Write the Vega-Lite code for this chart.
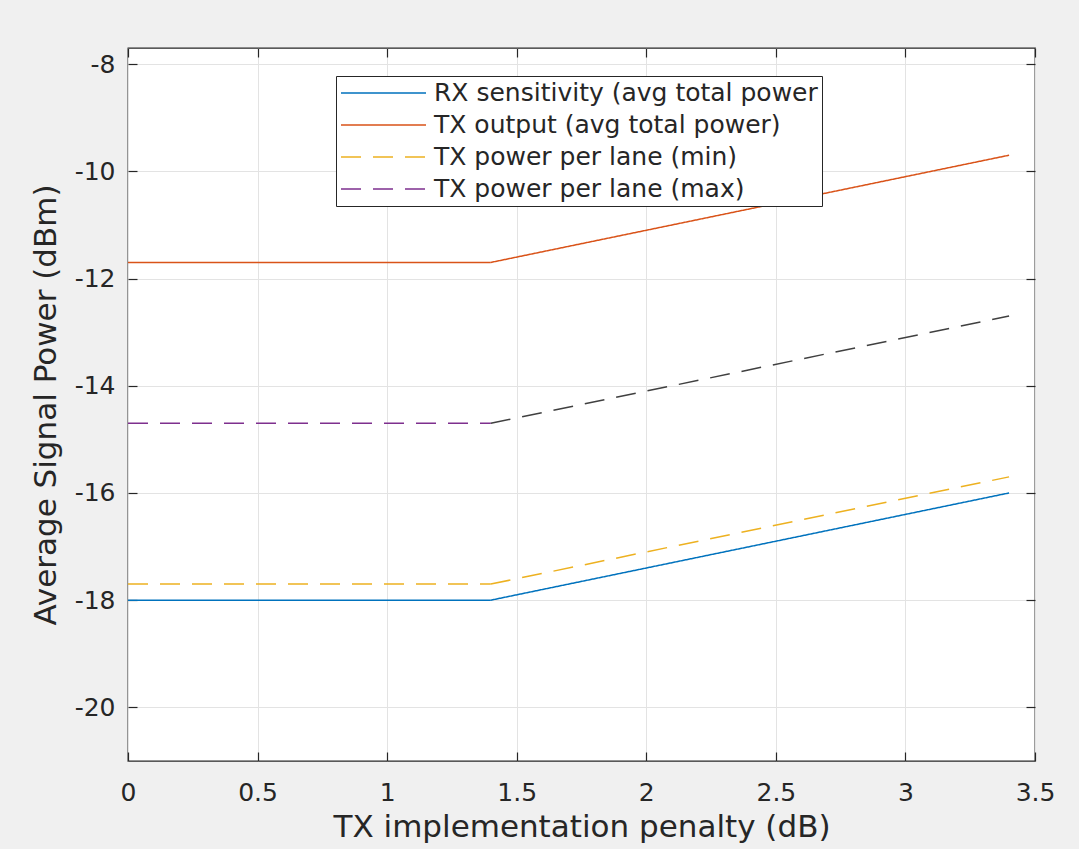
{
  "$schema": "https://vega.github.io/schema/vega-lite/v6.json",
  "width": 907,
  "height": 713,
  "autosize": "none",
  "padding": {"left": 128, "top": 48, "right": 44, "bottom": 88},
  "background": "#f0f0f0",
  "config": {
    "font": "DejaVu Sans",
    "view": {"fill": "white", "stroke": "#262626", "strokeWidth": 1.3},
    "axis": {
      "labelFont": "DejaVu Sans", "titleFont": "DejaVu Sans",
      "labelColor": "#262626", "titleColor": "#262626",
      "labelFontSize": 25, "titleFontSize": 31, "titleFontWeight": "normal",
      "gridColor": "#e3e3e3", "gridWidth": 1,
      "tickColor": "#262626", "tickSize": -9, "tickWidth": 1.2,
      "domain": false,
      "labelExpr": "datum.value + ''"
    }
  },
  "data": {
    "values": [
      {"series": "RX sensitivity (avg total power", "part": "flat", "x": 0, "y": -18},
      {"series": "RX sensitivity (avg total power", "part": "flat", "x": 1.4, "y": -18},
      {"series": "RX sensitivity (avg total power", "part": "slope", "x": 1.4, "y": -18},
      {"series": "RX sensitivity (avg total power", "part": "slope", "x": 3.4, "y": -16},
      {"series": "TX output (avg total power)", "part": "flat", "x": 0, "y": -11.7},
      {"series": "TX output (avg total power)", "part": "flat", "x": 1.4, "y": -11.7},
      {"series": "TX output (avg total power)", "part": "slope", "x": 1.4, "y": -11.7},
      {"series": "TX output (avg total power)", "part": "slope", "x": 3.4, "y": -9.7},
      {"series": "TX power per lane (min)", "part": "flat", "x": 0, "y": -17.7},
      {"series": "TX power per lane (min)", "part": "flat", "x": 1.4, "y": -17.7},
      {"series": "TX power per lane (min)", "part": "slope", "x": 1.4, "y": -17.7},
      {"series": "TX power per lane (min)", "part": "slope", "x": 3.4, "y": -15.7},
      {"series": "TX power per lane (max)", "part": "flat", "x": 0, "y": -14.7},
      {"series": "TX power per lane (max)", "part": "flat", "x": 1.4, "y": -14.7},
      {"series": "TX power per lane (max)", "part": "slope", "x": 1.4, "y": -14.7},
      {"series": "TX power per lane (max)", "part": "slope", "x": 3.4, "y": -12.7}
    ]
  },
  "resolve": {"axis": {"x": "independent", "y": "independent"}},
  "layer": [
    {
      "transform": [{"filter": "!(datum.series == 'TX power per lane (max)' && datum.part == 'slope')"}],
      "mark": {"type": "line", "strokeWidth": 1.5, "clip": true},
      "encoding": {
        "x": {"field": "x", "type": "quantitative",
              "scale": {"domain": [0, 3.5], "nice": false, "zero": false},
              "axis": {"values": [0, 0.5, 1, 1.5, 2, 2.5, 3, 3.5], "title": "TX implementation penalty (dB)", "labelPadding": 28, "titlePadding": 7, "labelFlush": false}},
        "y": {"field": "y", "type": "quantitative",
              "scale": {"domain": [-21, -7.7], "nice": false, "zero": false},
              "axis": {"values": [-20, -18, -16, -14, -12, -10, -8], "title": "Average Signal Power (dBm)", "labelPadding": 22, "titlePadding": 12}},
        "color": {"field": "series", "type": "nominal",
                  "scale": {"domain": ["RX sensitivity (avg total power", "TX output (avg total power)", "TX power per lane (min)", "TX power per lane (max)"],
                            "range": ["#0072BD", "#D95319", "#EDB120", "#7E2F8E"]},
                  "legend": {"title": null, "orient": "none", "legendX": 208, "legendY": 28,
                             "strokeColor": "#262626", "fillColor": "white", "padding": 4,
                             "labelFont": "DejaVu Sans", "labelFontSize": 25, "labelColor": "#262626", "labelLimit": 600,
                             "symbolType": "stroke", "symbolSize": 7225, "symbolStrokeWidth": 1.5,
                             "clipHeight": 26, "rowPadding": 6, "labelOffset": 7}},
        "strokeDash": {"field": "series", "type": "nominal",
                       "scale": {"domain": ["RX sensitivity (avg total power", "TX output (avg total power)", "TX power per lane (min)", "TX power per lane (max)"],
                                 "range": [[1, 0], [1, 0], [20, 12], [20, 12]]},
                       "legend": null},
        "detail": {"field": "part", "type": "nominal"}
      }
    },
    {
      "transform": [{"filter": "datum.series == 'TX power per lane (max)' && datum.part == 'slope'"}],
      "mark": {"type": "line", "strokeWidth": 1.5, "color": "#404040", "strokeDash": [20, 12], "clip": true},
      "encoding": {
        "x": {"field": "x", "type": "quantitative", "axis": {"orient": "top", "labels": false, "grid": false, "title": null, "values": [0, 0.5, 1, 1.5, 2, 2.5, 3, 3.5]}},
        "y": {"field": "y", "type": "quantitative", "axis": {"orient": "right", "labels": false, "grid": false, "title": null, "values": [-20, -18, -16, -14, -12, -10, -8]}}
      }
    }
  ]
}
